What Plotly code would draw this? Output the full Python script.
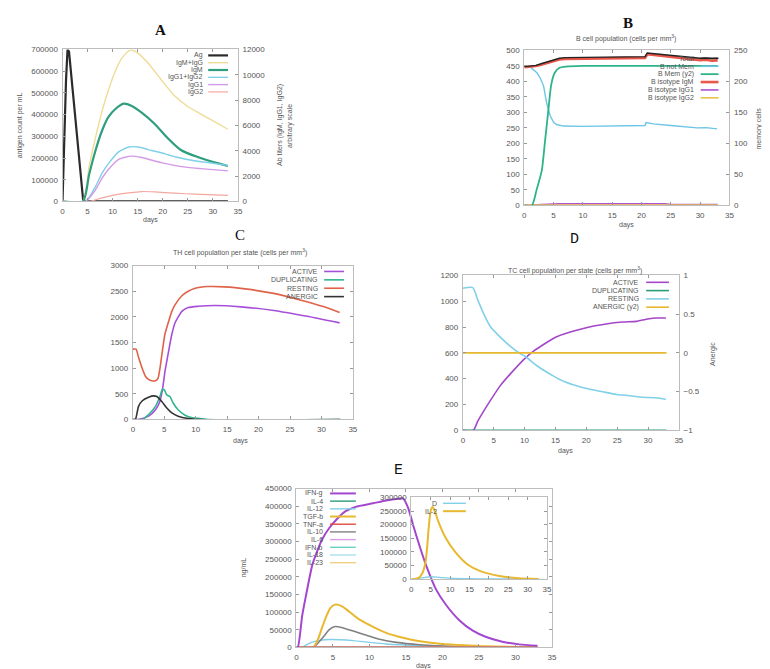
import plotly.graph_objects as go

W, H = 770, 669


def px(x):
    return x / W


def py(y):
    return 1 - y / H


# ---------------- Panel A : antigen & antibodies ----------------
a_ag_days = [0, 0.3, 0.7, 1.0, 1.3, 2.0, 3.0, 3.7, 4.1, 4.5, 33]
a_ag_vals = [0, 250000, 560000, 700000, 690000, 520000, 270000, 100000, 10000, 0, 0]

a_igmg_days = [0, 4.0, 5.3, 6.6, 7.9, 9.2, 10.5, 11.8, 13.5, 15.1, 17.1, 19.7, 22.4, 25.0, 27.6, 30.3, 33]
a_igmg_vals = [0, 0, 2750, 5080, 7150, 8840, 10260, 11300, 11950, 11690, 10910, 9615, 8320, 7500, 6900, 6300, 5700]

a_igm_days = [0, 4.1, 5.3, 6.6, 7.9, 9.2, 10.5, 12.2, 13.8, 15.8, 18.4, 21.1, 23.7, 26.3, 28.9, 33]
a_igm_vals = [0, 0, 2100, 4040, 5600, 6690, 7280, 7720, 7540, 7020, 6120, 4950, 4040, 3600, 3250, 2800]

a_igg12_days = [0, 4.6, 6.6, 7.9, 9.2, 11.2, 13.2, 15.1, 17.1, 19.7, 22.4, 26.3, 30.3, 33]
a_igg12_vals = [0, 0, 1190, 2230, 3000, 3910, 4300, 4300, 4095, 3840, 3525, 3210, 3000, 2850]

a_igg1_days = [0, 4.6, 6.6, 7.9, 9.2, 11.2, 13.8, 15.8, 19.7, 23.7, 27.6, 33]
a_igg1_vals = [0, 0, 930, 1840, 2540, 3320, 3580, 3470, 3060, 2750, 2590, 2410]

a_igg2_days = [0, 5.3, 7.9, 10.5, 13.2, 15.8, 18.4, 22.4, 26.3, 33]
a_igg2_vals = [0, 0, 285, 520, 675, 780, 750, 650, 570, 470]

a_names = ["Ag", "IgM+IgG", "IgM", "IgG1+IgG2", "IgG1", "IgG2"]
a_colors = ["#2b2b2b", "#eedc96", "#2e9e7e", "#80d0e8", "#d49ae8", "#f4a8a0"]

# ---------------- Panel B : B cell population ----------------
b_tot_days = [0, 1, 2, 3, 4, 5, 6, 7, 10, 15, 20, 20.6, 21, 22, 24, 26, 28, 30, 31, 32, 33]
b_tot_vals = [448, 450, 452, 458, 464, 470, 475, 477, 478, 479, 480, 480, 492, 490, 487, 482, 478, 475, 476, 474, 475]
b_igm_vals = [446, 448, 450, 455, 461, 467, 471, 473, 474, 475, 476, 476, 488, 486, 483, 478, 473, 469, 470, 467, 468]

b_notmem_days = [0, 1.0, 2.15, 2.7, 3.3, 3.8, 4.4, 5.0, 5.5, 6.7, 10, 15, 20, 20.6, 20.8, 22, 25, 28.1, 29.5, 31, 32, 32.9]
b_notmem_vals = [450, 447, 428, 412, 385, 332, 290, 268, 261, 256, 255, 257, 258, 258, 267, 263, 258, 252, 250, 251, 248, 247]

b_mem_days = [0, 1.3, 2.1, 3.0, 3.5, 4.1, 4.6, 5.2, 6.0, 7.1, 10, 33]
b_mem_vals = [0, 0, 25, 57, 100, 153, 195, 214, 222, 224, 225, 225]

b_igg1_days = [0, 4, 6, 24, 25, 33]
b_igg1_vals = [0, 2, 5, 5, 3, 3]
b_igg2_days = [0, 33]
b_igg2_vals = [1, 1]

b_names = ["Total", "B not Mem", "B Mem (y2)", "B isotype IgM", "B isotype IgG1", "B isotype IgG2"]
b_colors = ["#222222", "#6cc5e5", "#2db38a", "#e8574a", "#b04fd0", "#e8c24a"]

# ---------------- Panel C : TH cells ----------------
c_rest_days = [0, 0.5, 0.9, 1.5, 2.0, 2.5, 3.0, 3.6, 4.0, 4.3, 4.7, 5.1, 5.7, 6.2, 6.7, 7.8, 8.8, 9.8, 11.9, 14.6, 18.2, 22.4, 26.6, 30.3, 32.9]
c_rest_vals = [1370, 1370, 1212, 990, 842, 780, 753, 753, 800, 990, 1340, 1660, 1915, 2106, 2234, 2412, 2500, 2553, 2590, 2585, 2540, 2457, 2330, 2200, 2087]

c_act_days = [0, 1.0, 2.5, 3.6, 4.3, 4.7, 5.1, 5.7, 6.2, 6.7, 7.8, 8.8, 10.4, 13.0, 17.2, 22.4, 27.7, 32.9]
c_act_vals = [0, 5, 64, 190, 350, 575, 925, 1340, 1660, 1880, 2106, 2180, 2205, 2220, 2195, 2125, 2010, 1882]

c_dup_days = [0, 1.5, 2.5, 3.6, 4.3, 4.7, 5.0, 5.4, 5.9, 6.4, 7.2, 8.3, 9.3, 10.9, 12, 33]
c_dup_vals = [0, 0, 96, 255, 447, 587, 575, 478, 447, 320, 190, 83, 38, 13, 0, 0]

c_anerg_days = [0, 0.4, 0.9, 1.5, 2.5, 3.3, 3.8, 4.6, 5.4, 6.2, 7.2, 8.8, 10.4, 33]
c_anerg_vals = [0, 0, 255, 364, 434, 460, 447, 351, 223, 128, 64, 19, 0, 0]

c_names = ["ACTIVE", "DUPLICATING", "RESTING", "ANERGIC"]
c_colors = ["#a64fd8", "#2fb58f", "#e0624a", "#333333"]

# ---------------- Panel D : TC cells ----------------
d_rest_days = [0, 1.6, 2.5, 3.5, 4.5, 6.1, 7.7, 9.1, 10.2, 12.0, 14.7, 16.3, 18.4, 20.6, 22.7, 24.9, 27.0, 29.1, 31.3, 32.9]
d_rest_vals = [1100, 1105, 1000, 890, 800, 720, 650, 600, 570, 500, 420, 380, 345, 318, 298, 278, 268, 256, 252, 240]

d_act_days = [0, 1.7, 2.4, 3.5, 4.5, 6.1, 7.7, 9.9, 11.5, 15.2, 20.0, 23.2, 25.9, 28.1, 30.2, 31.3, 32.9]
d_act_vals = [0, 0, 69, 158, 234, 348, 437, 550, 615, 725, 795, 824, 839, 844, 864, 870, 870]

d_dup_days = [0, 33]
d_dup_vals = [0, 0]
d_anerg_days = [0, 33]
d_anerg_vals = [0, 0]

d_names = ["ACTIVE", "DUPLICATING", "RESTING", "ANERGIC (y2)"]
d_colors = ["#a347c8", "#2a9d7a", "#80d0e8", "#e8b830"]

# ---------------- Panel E : cytokines ----------------
e_ifng_days = [0, 0.2, 0.8, 1.3, 2.2, 2.9, 3.5, 4.5, 5.4, 6.7, 8.1, 10.5, 12.3, 14.0, 14.6, 15.3, 16.0, 16.9, 17.8, 19.1, 20.5, 22.3, 24.1, 25.9, 28.2, 30.5, 33]
e_ifng_vals = [0, 0, 90000, 145000, 235000, 275000, 305000, 338000, 360000, 385000, 398000, 408000, 416000, 421000, 422000, 395000, 345000, 285000, 230000, 165000, 120000, 77000, 48000, 30000, 16000, 8400, 4700]

e_tgfb_days = [0, 2.3, 3.0, 3.5, 4.1, 4.6, 5.3, 6.2, 7.3, 8.6, 10.5, 12.3, 14.6, 16.9, 19.6, 22.3, 25.9, 33]
e_tgfb_vals = [0, 0, 25000, 55000, 88000, 110000, 121000, 117000, 100000, 79000, 58000, 41000, 27000, 17000, 10000, 6500, 2800, 1000]

e_il10_days = [0, 2.3, 2.9, 3.8, 4.5, 5.3, 6.4, 7.8, 9.6, 11.4, 13.7, 16.9, 21.4, 33]
e_il10_vals = [0, 0, 11000, 32000, 50000, 59000, 55000, 46000, 34500, 23000, 14000, 7500, 2800, 500]

e_il12_days = [0, 0.7, 1.45, 2.4, 3.3, 4.6, 6.0, 7.8, 10.0, 12.3, 16.9, 21.4, 33]
e_il12_vals = [0, 0, 8000, 16000, 20000, 22000, 21500, 19000, 14000, 9500, 4700, 2000, 500]

e_zero_days = [0, 33]
e_zero_vals = [0, 0]

e_names = ["IFN-g", "IL-4", "IL-12", "TGF-b", "TNF-a", "IL-10", "IL-6", "IFN-b", "IL-18", "IL-23"]
e_colors = ["#a347d0", "#2a9d7a", "#80d0e8", "#e8b830", "#e04b3a", "#808080", "#d89be8", "#6cd0c0", "#a8e0f0", "#f0d080"]

# inset
i_d_days = [0, 2, 3.5, 5, 6.5, 8, 10, 15, 20, 33]
i_d_vals = [0, 3000, 7000, 9000, 8000, 6000, 4000, 2000, 1000, 500]
i_il2_days = [0, 1.0, 2.0, 2.9, 3.7, 4.1, 4.5, 5.0, 5.5, 6.0, 7.0, 8.7, 11.2, 14.5, 17.8, 22.7, 27.7, 32.8]
i_il2_vals = [0, 1000, 6000, 24000, 66000, 120000, 192000, 252000, 265000, 252000, 210000, 156000, 102000, 54000, 30000, 12000, 3600, 1200]
i_names = ["D", "IL-2"]
i_colors = ["#80d0e8", "#e8b830"]

# ---------------- figure ----------------
FONT = "Liberation Sans"
TICKF = dict(family=FONT, size=8, color="#555555")
BORDER = "#bdbdbd"

fig = go.Figure()


def add(xs, ys, color, width, xa, ya, shape="spline"):
    fig.add_trace(go.Scatter(
        x=xs, y=ys, mode="lines", xaxis=xa, yaxis=ya,
        line=dict(color=color, width=width, shape=shape, smoothing=0.6 if shape == "spline" else None),
        showlegend=False, hoverinfo="skip"))


# A
add(a_ag_days, a_ag_vals, a_colors[0], 2.2, "x", "y", "linear")
add(a_igmg_days, a_igmg_vals, a_colors[1], 1.4, "x", "y2")
add(a_igm_days, a_igm_vals, a_colors[2], 2.2, "x", "y2")
add(a_igg12_days, a_igg12_vals, a_colors[3], 1.4, "x", "y2")
add(a_igg1_days, a_igg1_vals, a_colors[4], 1.4, "x", "y2")
add(a_igg2_days, a_igg2_vals, a_colors[5], 1.2, "x", "y2")

# B
add(b_notmem_days, b_notmem_vals, b_colors[1], 1.4, "x2", "y3", "linear")
add(b_mem_days, b_mem_vals, b_colors[2], 1.8, "x2", "y4")
add(b_igg1_days, b_igg1_vals, b_colors[4], 1.6, "x2", "y3", "linear")
add(b_igg2_days, b_igg2_vals, b_colors[5], 1.6, "x2", "y3", "linear")
add(b_tot_days, b_igm_vals, b_colors[3], 2.6, "x2", "y3", "linear")
add(b_tot_days, b_tot_vals, b_colors[0], 1.4, "x2", "y3", "linear")

# C
add(c_act_days, c_act_vals, c_colors[0], 1.6, "x3", "y5")
add(c_dup_days, c_dup_vals, c_colors[1], 1.6, "x3", "y5")
add(c_rest_days, c_rest_vals, c_colors[2], 1.6, "x3", "y5")
add(c_anerg_days, c_anerg_vals, c_colors[3], 1.6, "x3", "y5")

# D
add(d_act_days, d_act_vals, d_colors[0], 1.6, "x4", "y6")
add(d_dup_days, d_dup_vals, d_colors[1], 1.6, "x4", "y6", "linear")
add(d_rest_days, d_rest_vals, d_colors[2], 1.6, "x4", "y6")
add(d_anerg_days, d_anerg_vals, d_colors[3], 1.6, "x4", "y7", "linear")

# E
add(e_il12_days, e_il12_vals, e_colors[2], 1.4, "x5", "y8")
add(e_il10_days, e_il10_vals, e_colors[5], 1.6, "x5", "y8")
add(e_tgfb_days, e_tgfb_vals, e_colors[3], 2.0, "x5", "y8")
for k in [1, 4, 6, 7, 8, 9]:
    add(e_zero_days, e_zero_vals, e_colors[k], 1.2, "x5", "y8", "linear")
add(e_zero_days, e_zero_vals, e_colors[4], 1.6, "x5", "y8", "linear")
add(e_ifng_days, e_ifng_vals, e_colors[0], 2.0, "x5", "y8")

# inset
add(i_d_days, i_d_vals, i_colors[0], 1.4, "x6", "y9")
add(i_il2_days, i_il2_vals, i_colors[1], 2.0, "x6", "y9")


def xax(x0, x1, anchor):
    return dict(domain=[px(x0), px(x1)], anchor=anchor, range=[0, 35], dtick=5, tick0=0,
                ticks="inside", ticklen=3, tickcolor="#999", showline=True, linecolor=BORDER,
                linewidth=1, mirror="ticks", showgrid=False, zeroline=False, tickfont=TICKF,
                ticklabelstandoff=2)


def yax(y0, y1, anchor, rng, dtick, mirror="ticks", fmt="d"):
    return dict(domain=[py(y1), py(y0)], anchor=anchor, range=rng, dtick=dtick,
                ticks="inside", ticklen=3, tickcolor="#999", showline=True, linecolor=BORDER,
                linewidth=1, mirror=mirror, showgrid=False, zeroline=False, tickfont=TICKF,
                tickformat=fmt, ticklabelstandoff=2)


def y2ax(over, anchor, rng, dtick, fmt="d"):
    return dict(overlaying=over, side="right", anchor=anchor, range=rng, dtick=dtick,
                ticks="inside", ticklen=3, tickcolor="#999", showline=True, linecolor=BORDER,
                showgrid=False, zeroline=False, tickfont=TICKF, tickformat=fmt,
                ticklabelstandoff=2)


fig.update_layout(
    width=W, height=H, margin=dict(l=0, r=0, t=0, b=0),
    paper_bgcolor="white", plot_bgcolor="rgba(0,0,0,0)", showlegend=False,
    font=dict(family=FONT, color="#555"),
    xaxis=xax(53, 230, "y"),
    yaxis=yax(38, 192, "x", [0, 700000], 100000, mirror=True),
    yaxis2=y2ax("y", "x", [0, 12000], 2000),
    xaxis2=xax(519, 726, "y3"),
    yaxis3=yax(39, 196, "x2", [0, 500], 50, mirror=True),
    yaxis4=y2ax("y3", "x2", [0, 250], 50),
    xaxis3=xax(124, 346, "y5"),
    yaxis5=yax(257, 413, "x3", [0, 3000], 500),
    xaxis4=xax(457, 675, "y6"),
    yaxis6=yax(267, 424, "x4", [0, 1200], 200, mirror=True),
    yaxis7=y2ax("y6", "x4", [-1, 1], 0.5, fmt=""),
    xaxis5=xax(289, 547, "y8"),
    yaxis8=yax(483, 644, "x5", [0, 450000], 50000),
    xaxis6=xax(405, 542, "y9"),
    yaxis9=yax(492, 575, "x6", [0, 300000], 50000),
)

ann = []


def text(x, y, s, size=7.5, color="#555", family=FONT, xanchor="center", angle=0, bold=False):
    if bold:
        s = "<b>" + s + "</b>"
    ann.append(dict(x=px(x), y=py(y), xref="paper", yref="paper", text=s, showarrow=False,
                    xanchor=xanchor, yanchor="middle", textangle=angle,
                    font=dict(size=size, color=color, family=family)))


shapes = []


def legend(names, colors, widths, tx, l0, l1, y0, dy):
    for i, (n, c, w) in enumerate(zip(names, colors, widths)):
        y = y0 + i * dy
        text(tx, y, n, size=7, xanchor="right")
        shapes.append(dict(type="line", xref="paper", yref="paper", x0=px(l0), x1=px(l1),
                           y0=py(y), y1=py(y), line=dict(color=c, width=w)))


# panel titles
text(152, 18, "A", size=15, color="#111", family="Liberation Serif", bold=True)
text(624, 11, "B", size=15, color="#111", family="Liberation Serif", bold=True)
text(232, 226, "C", size=15, color="#111", family="Liberation Serif")
text(570, 231, "D", size=15, color="#111", family="Liberation Mono")
text(392, 465, "E", size=15, color="#111", family="Liberation Mono")

# sub-titles
text(622, 27, "B cell population (cells per mm<sup>3</sup>)", size=7)
text(232, 244, "TH cell population per state (cells per mm<sup>3</sup>)", size=7)
text(570, 262, "TC cell population per state (cells per mm<sup>3</sup>)", size=7)

# axis titles
text(11, 115, "antigen count per mL", size=7, angle=-90)
text(273, 115, "Ab titers (IgM, IgG1, IgG2)", size=7, angle=-90)
text(283, 115, "arbitrary scale", size=7, angle=-90)
text(142, 211, "days", size=7)
text(756, 118, "memory cells", size=7, angle=-90)
text(622, 216, "days", size=7)
text(233, 435, "days", size=7)
text(710, 347, "Anergic", size=7, angle=-90)
text(561, 445, "days", size=7)
text(237, 563, "ng/mL", size=7, angle=-90)
text(417, 663, "days", size=7)

# legends
legend(a_names, a_colors, [2.2, 1.4, 2.2, 1.4, 1.4, 1.2], 197, 200, 220, 44, 7.4)
legend(b_names, b_colors, [1.4, 1.6, 1.8, 2.6, 1.6, 1.6], 692, 697, 715, 47, 8)
legend(c_names, c_colors, [1.6] * 4, 313, 317, 337, 263, 8.5)
legend(d_names, d_colors, [1.6] * 4, 637, 642, 665, 274, 8.4)
legend(e_names, e_colors, [2.0, 1.4, 1.4, 2.0, 1.4, 1.4, 1.4, 1.4, 1.4, 1.4], 318, 323, 349, 488, 7.8)
legend(i_names, i_colors, [1.4, 2.0], 433, 437, 460, 498, 8)

fig.update_layout(annotations=ann, shapes=shapes)
fig.write_html("out.html")
